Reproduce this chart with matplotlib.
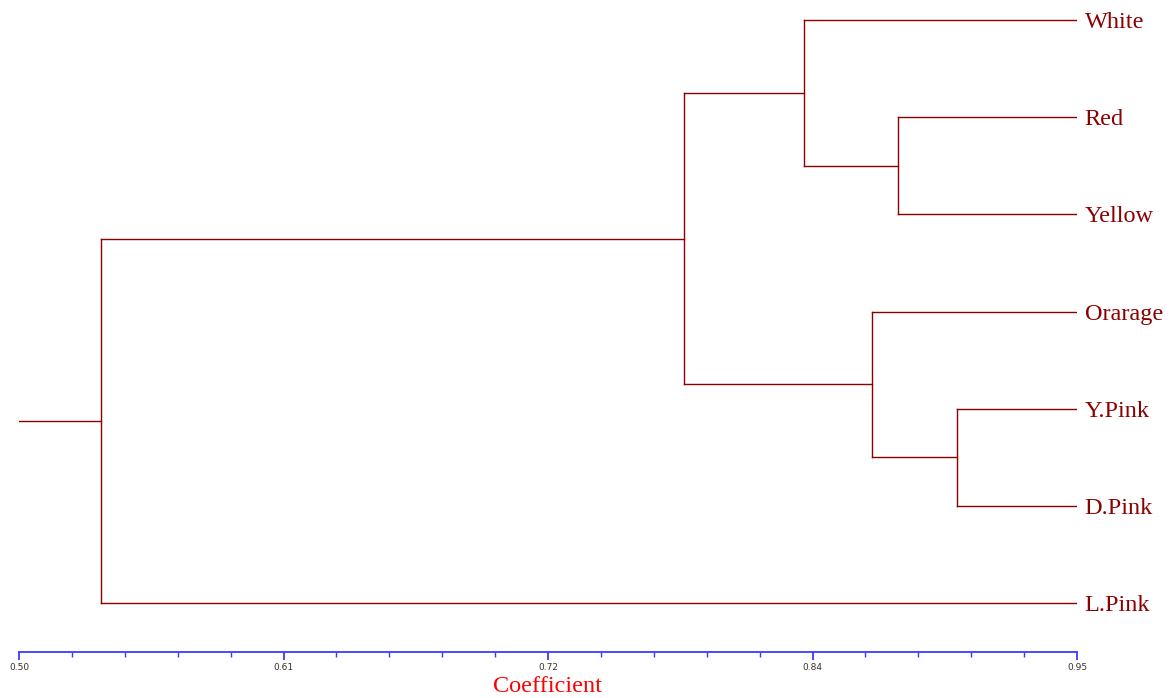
import matplotlib
matplotlib.use("Agg")
import numpy as np
import matplotlib.pyplot as plt
from matplotlib.ticker import FixedLocator

# leaves, top to bottom
leaves = ["White", "Red", "Yellow", "Orarage", "Y.Pink", "D.Pink", "L.Pink"]

# merges: (name, left, right, coefficient); ints are leaf indices, strings name earlier clusters
merges = [
    ("RY", 1, 2, 0.874),
    ("W_RY", 0, "RY", 0.834),
    ("YD", 4, 5, 0.899),
    ("O_YD", 3, "YD", 0.863),
    ("TOP", "W_RY", "O_YD", 0.783),
    ("ALL", "TOP", 6, 0.535),
]
root_start = 0.50

tick_vals = [0.50, 0.6125, 0.725, 0.8375, 0.95]
tick_labels = ["0.50", "0.61", "0.72", "0.84", "0.95"]
minor_step = 0.0225

line_col = "#8B0000"
axis_col = "#3a3aff"

fig = plt.figure(figsize=(11.71, 6.98), dpi=100)
ax = fig.add_axes([19 / 1171, 1 - 652 / 698, 1058 / 1171, 652 / 698])

n = len(leaves)
# node -> (y, x)
nodes = {i: (n - 1 - i, 0.95) for i in range(n)}
for name, a, b, h in merges:
    ya, xa = nodes[a]
    yb, xb = nodes[b]
    ax.plot([xa, h], [ya, ya], color=line_col, lw=1)
    ax.plot([xb, h], [yb, yb], color=line_col, lw=1)
    ax.plot([h, h], [ya, yb], color=line_col, lw=1)
    nodes[name] = ((ya + yb) / 2, h)

yr, xr = nodes["ALL"]
ax.plot([root_start, xr], [yr, yr], color=line_col, lw=1)

for i, lab in enumerate(leaves):
    ax.text(0.95 + 0.0032, n - 1 - i, lab, color=line_col, fontsize=17.5,
            family="Liberation Serif", va="center_baseline", ha="left")

ax.set_xlim(0.50, 0.95)
ax.set_ylim(-49 / 97.17, 6 + 20 / 97.17)

for s in ["top", "right", "left"]:
    ax.spines[s].set_visible(False)
ax.spines["bottom"].set_color(axis_col)
ax.spines["bottom"].set_linewidth(1.3)
ax.set_yticks([])
ax.set_xticks(tick_vals)
ax.set_xticklabels(tick_labels, fontsize=6.5, color="#333333")
minors = np.arange(0.50, 0.95 + 1e-9, minor_step)
ax.xaxis.set_minor_locator(FixedLocator(minors))
ax.tick_params(axis="x", which="major", direction="out", length=6, width=1.3,
               color=axis_col, pad=2)
ax.tick_params(axis="x", which="minor", direction="out", length=3.5, width=1,
               color=axis_col)
ax.set_xlabel("Coefficient", color="red", fontsize=17.5, family="Liberation Serif",
              labelpad=3)
ax.patch.set_visible(False)

fig.savefig("out.png", dpi=100)
